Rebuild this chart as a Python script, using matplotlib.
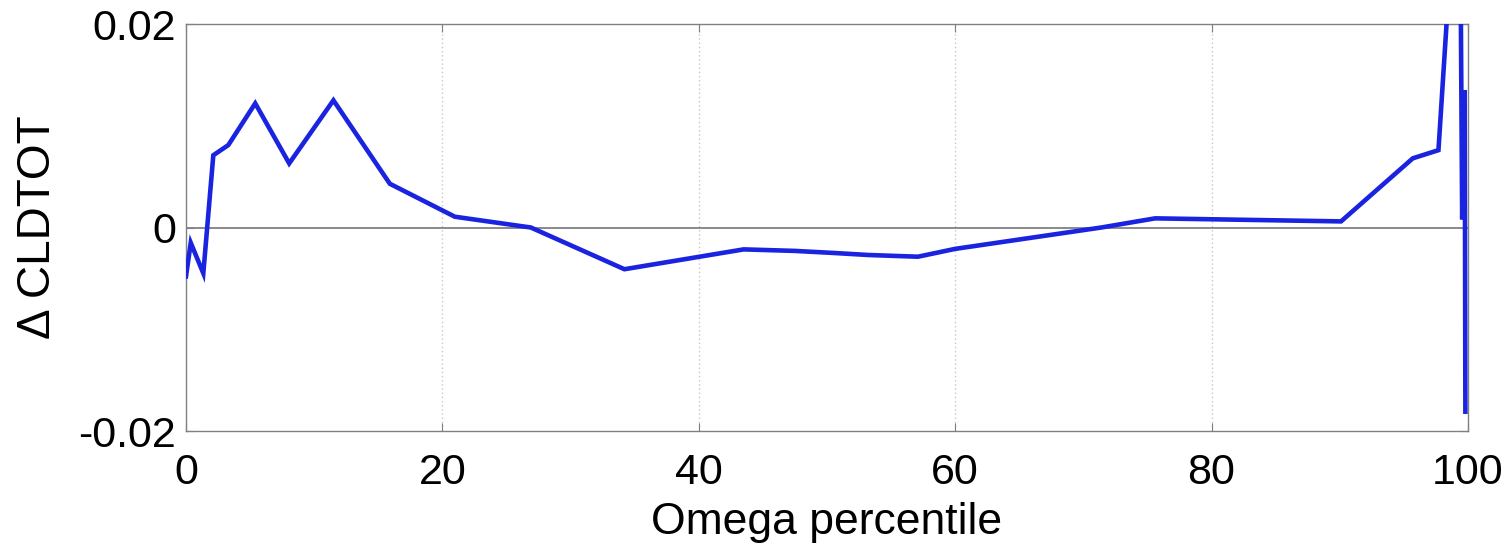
import matplotlib
matplotlib.use("Agg")
import matplotlib.pyplot as plt

# Data
percentile = [0.0, 0.37, 1.35, 2.13, 3.3, 5.4, 8.05, 11.5, 15.9, 20.97, 26.9,
              34.2, 43.5, 47.5, 50.5, 53.2, 57.1, 60.0, 71.4, 75.6, 90.1,
              95.7, 97.7, 99.35, 99.55, 99.75, 99.8]
d_cldtot = [-0.0048, -0.0015, -0.0045, 0.0071, 0.0081, 0.0122, 0.0063, 0.0125,
            0.0043, 0.00106, 0.0, -0.0041, -0.00215, -0.0023, -0.0025, -0.0027,
            -0.00287, -0.0021, 0.0, 0.0009, 0.0006, 0.0068, 0.0076, 0.040,
            0.0008, 0.0135, -0.0181]
xticks = [0, 20, 40, 60, 80, 100]
yticks = [-0.02, 0, 0.02]
ytick_labels = ["-0.02", "0", "0.02"]

plt.rcParams['font.family'] = ['Liberation Sans', 'DejaVu Sans']

fig = plt.figure(figsize=(15.11, 5.53), dpi=100)
ax = fig.add_axes([0.1231, 0.2206, 0.8484, 0.736])

for gx in xticks[1:-1]:
    ax.axvline(gx, color='#c8c8c8', linestyle=(0, (1, 2)), linewidth=1.0, zorder=1)
ax.axhline(0, color='#808080', linewidth=1.3, zorder=2)

ax.plot(percentile, d_cldtot, color='#1a23e0', linewidth=3.3, zorder=3,
        solid_joinstyle='miter')

ax.set_xlim(0, 100)
ax.set_ylim(-0.02, 0.02)
ax.set_xticks(xticks)
ax.set_yticks(yticks)
ax.set_yticklabels(ytick_labels)
ax.tick_params(direction='in', length=6, width=0.8, color='#808080',
               labelsize=31, pad=7, top=True, right=True)
ax.tick_params(axis='x', pad=16)
for s in ax.spines.values():
    s.set_color('#808080')
    s.set_linewidth(1.0)

ax.set_xlabel('Omega percentile', fontsize=32, labelpad=6)
ax.set_ylabel('Δ CLDTOT', fontsize=33, labelpad=13)

fig.savefig('out.png', dpi=100, facecolor='white')
